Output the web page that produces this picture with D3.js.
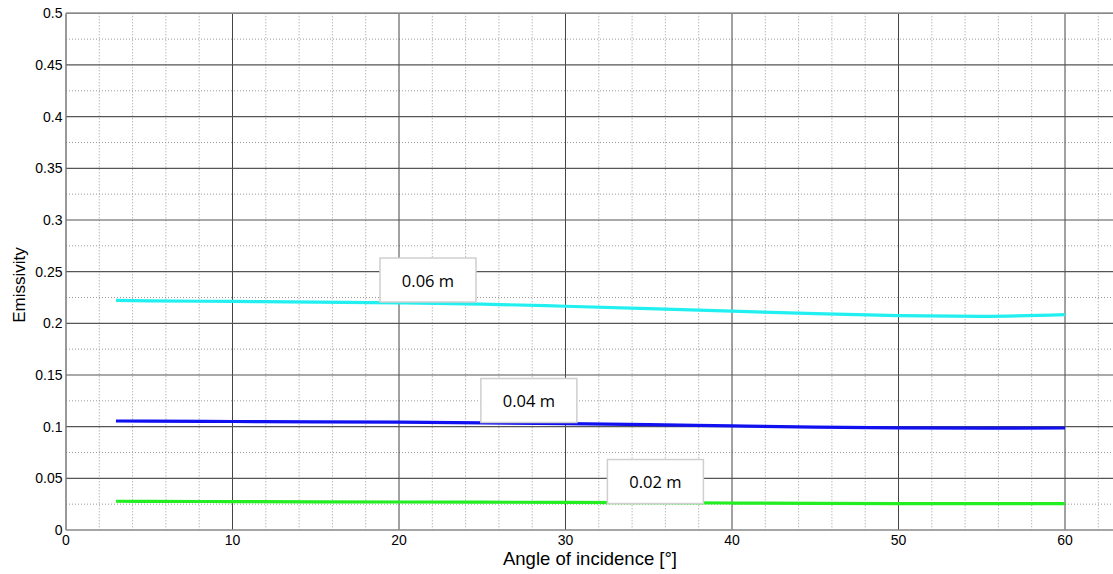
<!DOCTYPE html>
<html><head><meta charset="utf-8">
<script src="https://cdn.jsdelivr.net/npm/d3@7"></script>
<style>body{margin:0;background:#fff;}svg{display:block;}</style>
</head><body>
<svg id="c" width="1113" height="574"></svg>
<script>
const angles = [3,5,10,15,20,25,30,35,40,45,50,55,60];
const emis006 = [0.2222,0.2218,0.2212,0.2206,0.2198,0.2186,0.2165,0.2142,0.2118,0.2093,0.2075,0.2068,0.2085];
const emis004 = [0.1055,0.1053,0.1050,0.1047,0.1043,0.1037,0.1029,0.1019,0.1007,0.0996,0.0988,0.0985,0.0987];
const emis002 = [0.0278,0.0277,0.0275,0.0273,0.0271,0.0269,0.0267,0.0264,0.0261,0.0258,0.0256,0.0255,0.0255];
const seriesNames = ["0.06 m","0.04 m","0.02 m"];
const seriesColors = ["#22f0f0","#1010f0","#22ee22"];
const labelAngles = [21.74, 27.8, 35.4];
const labelValues = [0.2419, 0.1253, 0.0469];
const xTicks = [0,10,20,30,40,50,60];
const yTicks = [0,0.05,0.1,0.15,0.2,0.25,0.3,0.35,0.4,0.45,0.5];

const svg = d3.select("#c");
const L = 66, T = 13.3, B = 530;
const xs = d3.scaleLinear().domain([0,10]).range([L, L+166.5]);
const ys = d3.scaleLinear().domain([0,0.5]).range([B, T]);
const xMax = 63;

const g = svg.append("g");
// minor grid
const minorX = d3.range(2, xMax+0.1, 2).filter(v => v % 10 !== 0);
const minorY = d3.range(0.025, 0.5, 0.05);
g.selectAll(".mx").data(minorX).enter().append("line")
  .attr("x1", d=>xs(d)).attr("x2", d=>xs(d)).attr("y1", T).attr("y2", B)
  .attr("stroke","#999").attr("stroke-width",1).attr("stroke-dasharray","1,2");
g.selectAll(".my").data(minorY).enter().append("line")
  .attr("x1", L).attr("x2", xs(xMax)).attr("y1", d=>ys(d)).attr("y2", d=>ys(d))
  .attr("stroke","#999").attr("stroke-width",1).attr("stroke-dasharray","1,2");
// major grid
g.selectAll(".Mx").data(xTicks.slice(1)).enter().append("line")
  .attr("x1", d=>xs(d)).attr("x2", d=>xs(d)).attr("y1", T).attr("y2", B)
  .attr("stroke","#444").attr("stroke-width",1);
g.selectAll(".My").data(yTicks.slice(1)).enter().append("line")
  .attr("x1", L).attr("x2", xs(xMax)).attr("y1", d=>ys(d)).attr("y2", d=>ys(d))
  .attr("stroke","#555").attr("stroke-width",1.2);
// axes lines
g.append("line").attr("x1",L).attr("x2",L).attr("y1",T).attr("y2",B).attr("stroke","#777").attr("stroke-width",1.5);
g.append("line").attr("x1",L).attr("x2",xs(xMax)).attr("y1",B).attr("y2",B).attr("stroke","#888").attr("stroke-width",1.5);
g.append("line").attr("x1",L).attr("x2",xs(xMax)).attr("y1",T).attr("y2",T).attr("stroke","#888").attr("stroke-width",1.5);

// tick labels
const font = "'Liberation Sans', Arial, sans-serif";
svg.selectAll(".yt").data(yTicks).enter().append("text")
  .attr("x", L-3.5).attr("y", d=>ys(d)+5).attr("text-anchor","end")
  .attr("font-family",font).attr("font-size",14).attr("fill","#000")
  .text(d=>d3.format("")(d));
svg.selectAll(".xt").data(xTicks).enter().append("text")
  .attr("x", d=>xs(d)).attr("y", B+14.5).attr("text-anchor","middle")
  .attr("font-family",font).attr("font-size",14).attr("fill","#000")
  .text(d=>d);
svg.append("text").attr("x",590).attr("y",565).attr("text-anchor","middle")
  .attr("font-family",font).attr("font-size",18.5).text("Angle of incidence [°]");
svg.append("text").attr("transform","translate(24.5,285) rotate(-90)").attr("text-anchor","middle")
  .attr("font-family",font).attr("font-size",17).text("Emissivity");

// lines
const data = [emis006, emis004, emis002];
const line = d3.line().x((d,i)=>xs(angles[i])).y(d=>ys(d)).curve(d3.curveMonotoneX);
data.forEach((s,k)=>{
  svg.append("path").attr("d", line(s)).attr("fill","none")
    .attr("stroke", seriesColors[k]).attr("stroke-width",3.2);
});
// labels
seriesNames.forEach((n,k)=>{
  const cx = xs(labelAngles[k]), cy = ys(labelValues[k]);
  svg.append("rect").attr("x",cx-48).attr("y",cy-22).attr("width",96).attr("height",44)
    .attr("fill","#fff").attr("stroke","#cfcfcf").attr("stroke-width",1.5);
  svg.append("text").attr("x",cx).attr("y",cy+6.5).attr("text-anchor","middle")
    .attr("font-family","'Open Sans', 'Noto Sans', sans-serif").attr("font-size",16.5).attr("fill","#000").text(n);
});
</script>
</body></html>
